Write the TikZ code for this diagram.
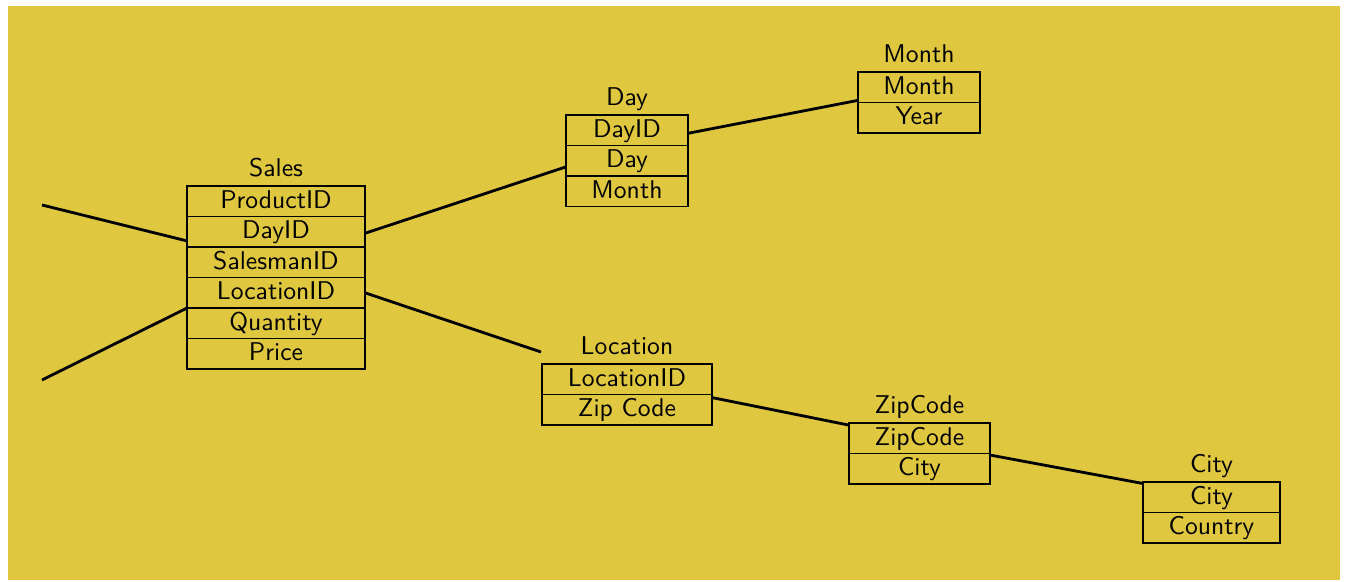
\documentclass[tikz,border=0pt]{standalone}
\usetikzlibrary{positioning,calc}
\definecolor{bgyellow}{RGB}{224,199,64}

\begin{document}
\begin{tikzpicture}
  [x=0.39pt, y=-0.39pt,
   every node/.style={font=\sffamily},
   cell/.style={draw, line width=0.7pt, outer sep=0pt, inner sep=0pt,
     minimum height=11.9pt, text height=1.5ex, text depth=.25ex},
   head/.style={outer sep=0pt, inner sep=2.5pt, text height=1.5ex, text depth=.25ex},
   link/.style={line width=1.1pt}]

  \useasboundingbox (0,0) rectangle (1346,582);
  \fill[bgyellow] (8,6) rectangle (1340,580);

    % fact table
    \begin{scope}[shift={(276,186)}, cell/.append style={minimum width=69.4pt}]
      \node (s1) [cell, anchor=north] at (0,0) {ProductID};
      \node (s2) [cell, below=0pt of s1] {DayID};
      \node (s3) [cell, below=0pt of s2] {SalesmanID};
      \node (s4) [cell, below=0pt of s3] {LocationID};
      \node (s5) [cell, below=0pt of s4] {Quantity};
      \node (s6) [cell, below=0pt of s5] {Price};
      \node (s0) [head, above=0pt of s1] {Sales};
    \end{scope}

    \begin{scope}[shift={(627,115)}, cell/.append style={minimum width=47.6pt}]
      \node (d1) [cell, anchor=north] at (0,0) {DayID};
      \node (d2) [cell, below=0pt of d1] {Day};
      \node (d3) [cell, below=0pt of d2] {Month};
      \node (d0) [head, above=0pt of d1] {Day};
    \end{scope}

    \begin{scope}[shift={(919,72)}, cell/.append style={minimum width=47.6pt}]
      \node (m1) [cell, anchor=north] at (0,0) {Month};
      \node (m2) [cell, below=0pt of m1] {Year};
      \node (m0) [head, above=0pt of m1] {Month};
    \end{scope}

    \begin{scope}[shift={(627,364)}, cell/.append style={minimum width=66.3pt}]
      \node (l1) [cell, anchor=north] at (0,0) {LocationID};
      \node (l2) [cell, below=0pt of l1] {Zip Code};
      \node (l0) [head, above=0pt of l1] {Location};
    \end{scope}

    \begin{scope}[shift={(919.5,423)}, cell/.append style={minimum width=55pt}]
      \node (z1) [cell, anchor=north] at (0,0) {ZipCode};
      \node (z2) [cell, below=0pt of z1] {City};
      \node (z0) [head, above=0pt of z1] {ZipCode};
    \end{scope}

    \begin{scope}[shift={(1211.5,482)}, cell/.append style={minimum width=53.4pt}]
      \node (c1) [cell, anchor=north] at (0,0) {City};
      \node (c2) [cell, below=0pt of c1] {Country};
      \node (c0) [head, above=0pt of c1] {City};
    \end{scope}

    % loose ends
    \coordinate (o1) at (42,205);
    \coordinate (o2) at (42,380);
    \coordinate (o3) at (541,352);

    \draw[link] (o1) -- ($(s2.north west)!0.8!(s2.south west)$);
    \draw[link] (o2) -- (s5.north west);
    \draw[link] ($(s2.north east)!0.55!(s2.south east)$) -- ($(d2.north west)!0.7!(d2.south west)$);
    \draw[link] ($(d1.north east)!0.6!(d1.south east)$) -- ($(m1.north west)!0.93!(m1.south west)$);
    \draw[link] (s4.east) -- (o3);
    \draw[link] ($(l2.north east)!0.1!(l2.south east)$) -- ($(z1.north west)!0.07!(z1.south west)$);
    \draw[link] ($(z2.north east)!0.05!(z2.south east)$) -- ($(c1.north west)!0.05!(c1.south west)$);

  \end{tikzpicture}
\end{document}
